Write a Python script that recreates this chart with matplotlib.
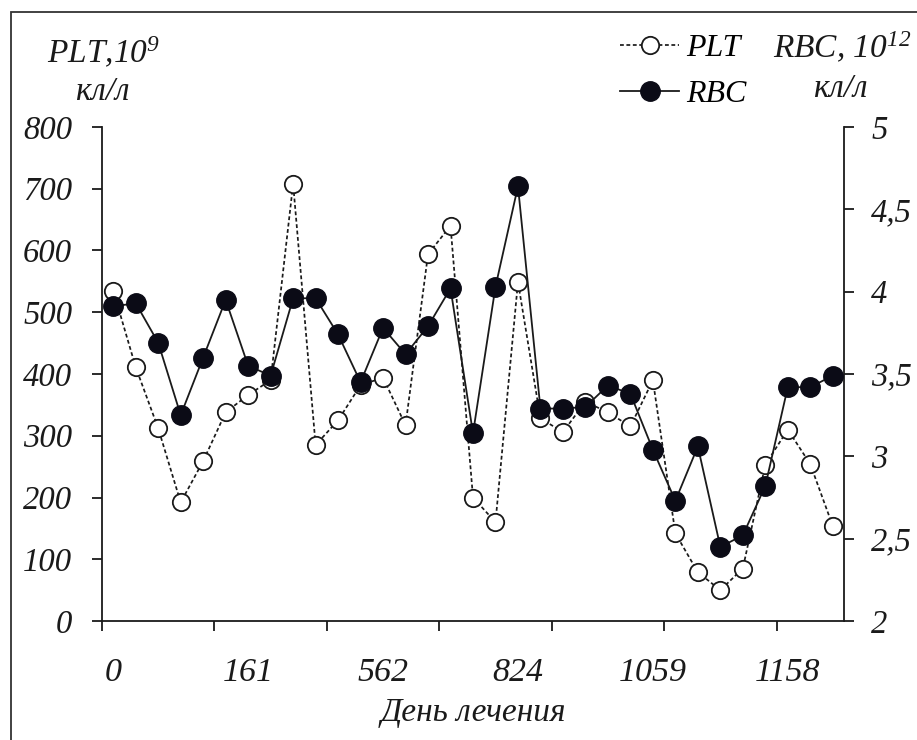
import matplotlib
matplotlib.use("Agg")
import matplotlib.pyplot as plt
from matplotlib.lines import Line2D
from matplotlib.patches import Rectangle
from matplotlib.ticker import FixedLocator, FixedFormatter

plt.rcParams["font.family"] = ["Liberation Serif", "DejaVu Serif"]
plt.rcParams["font.style"] = "italic"
plt.rcParams["mathtext.fontset"] = "custom"
plt.rcParams["mathtext.rm"] = "Liberation Serif:italic"
plt.rcParams["mathtext.it"] = "Liberation Serif:italic"

# Platelet count, 10^9 cells/L
plt_values = [535, 411, 312, 192, 259, 338, 366, 390, 708, 285, 325, 382,
              394, 317, 594, 640, 200, 160, 549, 328, 306, 355, 338, 315,
              390, 142, 79, 50, 85, 253, 310, 254, 154]
# Red blood cell count, 10^12 cells/L
rbc_values = [3.91, 3.93, 3.69, 3.25, 3.60, 3.95, 3.55, 3.49, 3.96, 3.96,
              3.74, 3.45, 3.78, 3.62, 3.79, 4.02, 3.14, 4.03, 4.64, 3.29,
              3.29, 3.30, 3.43, 3.38, 3.04, 2.73, 3.06, 2.45, 2.52, 2.82,
              3.42, 3.42, 3.49]
day_labels = ["0", "161", "562", "824", "1059", "1158"]
left_ticks = [0, 100, 200, 300, 400, 500, 600, 700, 800]
right_ticks = [2, 2.5, 3, 3.5, 4, 4.5, 5]
right_tick_labels = ["2", "2,5", "3", "3,5", "4", "4,5", "5"]

n = len(plt_values)
x = list(range(n))
ink = "#1a1a1a"
dot = "#0b0b16"
fs = 23.5

fig = plt.figure(figsize=(9.17, 7.40), dpi=100)
fig.patch.set_facecolor("white")
ax = fig.add_axes([102 / 917, 1 - 621 / 740, (844 - 102) / 917, (621 - 127) / 740])
ax2 = ax.twinx()

ax.plot(x, plt_values, linestyle=(0, (2.2, 1.5)), color=ink, lw=1.25,
        marker="o", markersize=12.5, markerfacecolor="white",
        markeredgecolor=ink, markeredgewidth=1.3, zorder=3)
ax2.plot(x, rbc_values, linestyle="-", color=ink, lw=1.3,
         marker="o", markersize=14, markerfacecolor=dot,
         markeredgecolor=dot, zorder=3)

ax.set_xlim(-0.5, n - 0.5)
ax.set_ylim(0, 800)
ax2.set_ylim(2, 5)

# category boundaries every 5 points carry the tick marks, labels sit on every 6th point
ax.xaxis.set_major_locator(FixedLocator([-0.5 + 5 * k for k in range(7)]))
ax.xaxis.set_major_formatter(FixedFormatter([""] * 7))
ax.xaxis.set_minor_locator(FixedLocator([0, 6, 12, 18, 24, 30]))
ax.xaxis.set_minor_formatter(FixedFormatter(day_labels))
ax.tick_params(axis="x", which="major", direction="out", length=7.5, width=1.3, color=ink)
ax.tick_params(axis="x", which="minor", length=0, pad=26, labelsize=24.5)

ax.set_yticks(left_ticks)
ax.set_yticklabels([str(v) for v in left_ticks])
ax.tick_params(axis="y", direction="out", length=7.5, width=1.3, color=ink,
               labelsize=fs, pad=14)
ax2.set_yticks(right_ticks)
ax2.set_yticklabels(right_tick_labels)
ax2.tick_params(axis="y", direction="out", length=7.5, width=1.3, color=ink,
                labelsize=fs, pad=12)

for a in (ax, ax2):
    a.spines["top"].set_visible(False)
    for s in ("left", "right", "bottom"):
        a.spines[s].set_linewidth(1.3)
        a.spines[s].set_color(ink)
ax.spines["right"].set_visible(False)
ax2.spines["left"].set_visible(False)
ax2.spines["bottom"].set_visible(False)

for lab in ax.get_xticklabels(which="both") + ax.get_yticklabels() + ax2.get_yticklabels():
    lab.set_fontstyle("italic")
    lab.set_color(ink)

ax.set_xlabel("День лечения", fontsize=24, style="italic", color=ink, labelpad=7)

# axis titles
fig.text(47 / 917, 1 - 63 / 740, r"PLT,10$^{9}$", fontsize=24, style="italic",
         ha="left", va="baseline", color=ink)
fig.text(102 / 917, 1 - 100 / 740, "кл/л", fontsize=24, style="italic",
         ha="center", va="baseline", color=ink)
fig.text(773 / 917, 1 - 58 / 740, r"RBC, 10$^{12}$", fontsize=24, style="italic",
         ha="left", va="baseline", color=ink)
fig.text(840 / 917, 1 - 97 / 740, "кл/л", fontsize=24, style="italic",
         ha="center", va="baseline", color=ink)

# legend
handles = [
    Line2D([], [], linestyle=(0, (2.2, 1.5)), color=ink, lw=1.25, marker="o",
           markersize=12.5, markerfacecolor="white", markeredgecolor=ink,
           markeredgewidth=1.3),
    Line2D([], [], linestyle="-", color=ink, lw=1.3, marker="o", markersize=14,
           markerfacecolor=dot, markeredgecolor=dot),
]
fig.legend(handles, ["PLT", "RBC"], loc="upper left",
           bbox_to_anchor=(620 / 917, 1 - 34 / 740), frameon=False,
           numpoints=1, handlelength=1.85, handletextpad=0.22,
           labelspacing=0.5, borderpad=0, borderaxespad=0,
           prop={"family": "Liberation Serif", "style": "italic", "size": 23})

# outer frame
fig.add_artist(Rectangle((11 / 917, -0.05), 1.0, 1 - 12 / 740 + 0.05,
                         transform=fig.transFigure, fill=False,
                         edgecolor="#333333", lw=1.3))

fig.savefig("out.png", dpi=100, facecolor="white")
